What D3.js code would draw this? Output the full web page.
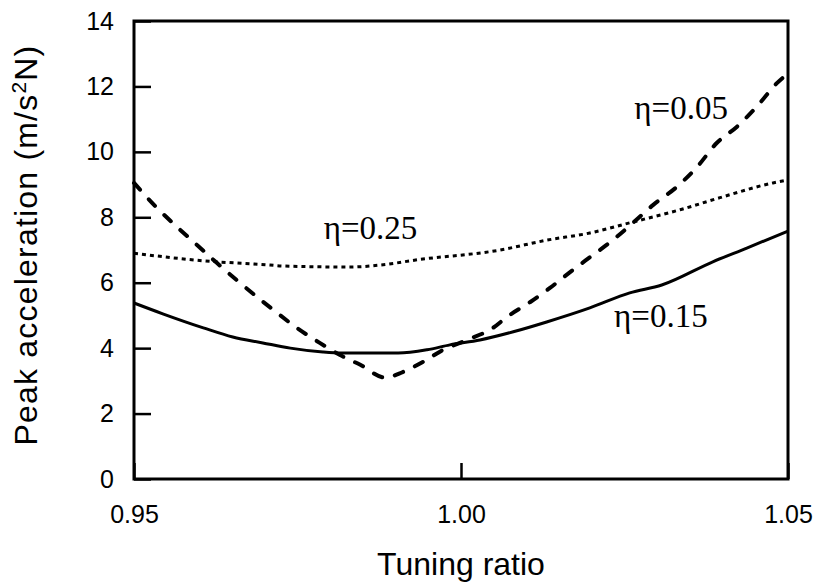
<!DOCTYPE html>
<html>
<head>
<meta charset="utf-8">
<script src="https://cdn.jsdelivr.net/npm/d3@7"></script>
<style>
  body { margin: 0; background: #fff; }
  svg { display: block; }
</style>
</head>
<body>
<svg id="chart"></svg>
<script>
// eta = 0.15 (solid)
var ratio015 = [0.95, 0.9544, 0.9606, 0.9651, 0.9697, 0.9739, 0.9789, 0.9818, 0.9861, 0.9904, 0.9948, 0.9983, 1.0029, 1.008, 1.0131, 1.0197, 1.0258, 1.0307, 1.0385, 1.0437, 1.05]
var acc015 = [5.38, 5.05, 4.62, 4.34, 4.16, 4.0, 3.88, 3.85, 3.85, 3.85, 3.95, 4.1, 4.25, 4.5, 4.8, 5.23, 5.69, 5.93, 6.64, 7.06, 7.58]
// eta = 0.05 (dashed)
var ratio005 = [0.95, 0.9535, 0.9566, 0.9596, 0.9627, 0.9657, 0.9713, 0.9749, 0.9784, 0.9815, 0.9846, 0.9884, 0.9911, 0.9942, 0.9972, 1.0009, 1.0049, 1.007, 1.0106, 1.0136, 1.0171, 1.0202, 1.0232, 1.0263, 1.0294, 1.033, 1.0361, 1.0391, 1.0422, 1.0453, 1.0483, 1.05]
var acc005 = [9.05, 8.29, 7.7, 7.16, 6.6, 6.08, 5.17, 4.62, 4.16, 3.79, 3.49, 3.1, 3.27, 3.58, 3.94, 4.25, 4.62, 4.95, 5.41, 5.84, 6.39, 6.85, 7.3, 7.83, 8.38, 8.93, 9.54, 10.27, 10.77, 11.4, 12.1, 12.4]
// eta = 0.25 (dotted)
var ratio025 = [0.95, 0.9606, 0.9708, 0.9728, 0.983, 0.9881, 0.9933, 1.006, 1.0131, 1.0197, 1.0258, 1.0335, 1.0396, 1.0477, 1.05]
var acc025 = [6.9, 6.67, 6.54, 6.51, 6.48, 6.55, 6.7, 7.0, 7.3, 7.52, 7.83, 8.23, 8.6, 9.05, 9.14]

var xTicks = [0.95, 1.00, 1.05]
var yTicks = [0, 2, 4, 6, 8, 10, 12, 14]
var seriesLabels = ["η=0.05", "η=0.25", "η=0.15"]

var width = 817, height = 586
var margin = {top: 21, right: 29, bottom: 107, left: 134}
var w = width - margin.left - margin.right
var h = height - margin.top - margin.bottom

var svg = d3.select("#chart").attr("width", width).attr("height", height)
var g = svg.append("g").attr("transform", "translate(" + margin.left + "," + margin.top + ")")

var xScale = d3.scaleLinear().domain([0.95, 1.05]).range([0, w])
var yScale = d3.scaleLinear().domain([0, 14]).range([h, 0])

var xAxis = d3.axisBottom(xScale).tickValues(xTicks).tickFormat(d3.format(".2f"))
  .tickSizeInner(-16).tickSizeOuter(0).tickPadding(26)
var yAxis = d3.axisLeft(yScale).tickValues(yTicks).tickFormat(d3.format("d"))
  .tickSizeInner(-17).tickSizeOuter(0).tickPadding(20)

var gx = g.append("g").attr("transform", "translate(0," + h + ")").call(xAxis)
var gy = g.append("g").call(yAxis)
gx.select(".domain").remove()
gy.select(".domain").remove()
svg.selectAll(".tick line").attr("stroke", "#000").attr("stroke-width", 2.5)
svg.selectAll(".tick text").attr("fill", "#000")
  .style("font-family", "'Liberation Sans', Arial, sans-serif").style("font-size", "25px")

// frame
g.append("rect").attr("x", 0).attr("y", 0).attr("width", w).attr("height", h)
  .attr("fill", "none").attr("stroke", "#000").attr("stroke-width", 3)

function pts(xs, ys) {
  return xs.map(function(d, i) { return [d, ys[i]] })
}
var line = d3.line().x(function(d) { return xScale(d[0]) }).y(function(d) { return yScale(d[1]) })
  .curve(d3.curveMonotoneX)

g.append("path").datum(pts(ratio015, acc015)).attr("d", line)
  .attr("fill", "none").attr("stroke", "#000").attr("stroke-width", 3)
g.append("path").datum(pts(ratio005, acc005)).attr("d", line)
  .attr("fill", "none").attr("stroke", "#000").attr("stroke-width", 4)
  .attr("stroke-linecap", "round").attr("stroke-dasharray", "9,13")
g.append("path").datum(pts(ratio025, acc025)).attr("d", line)
  .attr("fill", "none").attr("stroke", "#000").attr("stroke-width", 3)
  .attr("stroke-dasharray", "4,4")

// curve labels
var labelPos = [[1.0265, 11.0], [0.979, 7.33], [1.0234, 4.64]]
g.selectAll(".clabel").data(seriesLabels).enter().append("text")
  .attr("class", "clabel")
  .attr("x", function(d, i) { return xScale(labelPos[i][0]) })
  .attr("y", function(d, i) { return yScale(labelPos[i][1]) })
  .style("font-family", "'Liberation Serif', 'Times New Roman', serif")
  .style("font-size", "33px")
  .text(function(d) { return d })

// axis titles
svg.append("text").attr("x", margin.left + w / 2).attr("y", 575)
  .attr("text-anchor", "middle")
  .style("font-family", "'Liberation Sans', Arial, sans-serif").style("font-size", "32px")
  .text("Tuning ratio")

var yt = svg.append("text")
  .attr("transform", "translate(37,245)rotate(-90)")
  .attr("text-anchor", "middle")
  .style("font-family", "'Liberation Sans', Arial, sans-serif").style("font-size", "32px")
  .style("letter-spacing", "1.2px")
yt.append("tspan").text("Peak acceleration (m/s")
yt.append("tspan").attr("baseline-shift", "super").style("font-size", "21px").text("2")
yt.append("tspan").text("N)")
</script>
</body>
</html>
